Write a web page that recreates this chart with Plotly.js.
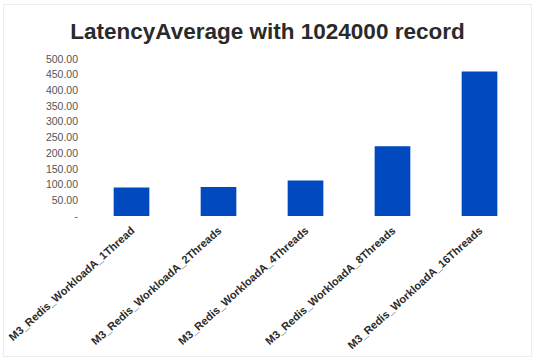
<!DOCTYPE html>
<html>
<head>
<meta charset="utf-8">
<script src="https://cdn.plot.ly/plotly-3.0.1.min.js"></script>
<style>
  html, body { margin: 0; padding: 0; background: #ffffff; }
  #frame {
    position: absolute; left: 3px; top: 4px;
    width: 527px; height: 351px;
    border: 1px solid #ececec;
  }
</style>
</head>
<body>
<div id="frame"></div>
<script>
// Average latency per thread count, 1,024,000 records
const categories = [
  "M3_Redis_WorkloadA_1Thread",
  "M3_Redis_WorkloadA_2Threads",
  "M3_Redis_WorkloadA_4Threads",
  "M3_Redis_WorkloadA_8Threads",
  "M3_Redis_WorkloadA_16Threads"
];
const latencyAverage = [90.6, 92.5, 113, 222, 460];

// y-axis ticks in accounting style: zero shown as a dash
const yTickValues = [0, 50, 100, 150, 200, 250, 300, 350, 400, 450, 500];
const yTickText = ["-", "50.00", "100.00", "150.00", "200.00", "250.00",
                   "300.00", "350.00", "400.00", "450.00", "500.00"];

const trace = {
  type: "bar",
  x: categories,
  y: latencyAverage,
  marker: { color: "#0049be" },
  hoverinfo: "x+y"
};

const layout = {
  width: 527,
  height: 351,
  margin: { l: 84, r: 8, t: 54, b: 140 },
  paper_bgcolor: "#ffffff",
  plot_bgcolor: "#ffffff",
  bargap: 0.59,
  showlegend: false,
  title: {
    text: "LatencyAverage with 1024000 record",
    font: { family: "Liberation Sans, Arial, sans-serif", size: 22.5, color: "#2a2a2a", weight: "bold" },
    x: 0.5,
    xanchor: "center",
    y: 0.925,
    yanchor: "middle"
  },
  xaxis: {
    type: "category",
    tickangle: -42,
    showgrid: false,
    showline: false,
    zeroline: false,
    ticks: "",
    ticklabelstandoff: 5,
    tickfont: { family: "Liberation Sans, Arial, sans-serif", size: 11, color: "#2a2a2a", weight: "bold" }
  },
  yaxis: {
    range: [0, 500],
    tickvals: yTickValues,
    ticktext: yTickText,
    showgrid: false,
    showline: false,
    zeroline: false,
    ticks: "",
    ticklabelstandoff: 9,
    tickfont: { family: "Liberation Sans, Arial, sans-serif", size: 10.5, color: "#555555" }
  }
};

Plotly.newPlot("frame", [trace], layout, { displayModeBar: false, staticPlot: true });
</script>
</body>
</html>
